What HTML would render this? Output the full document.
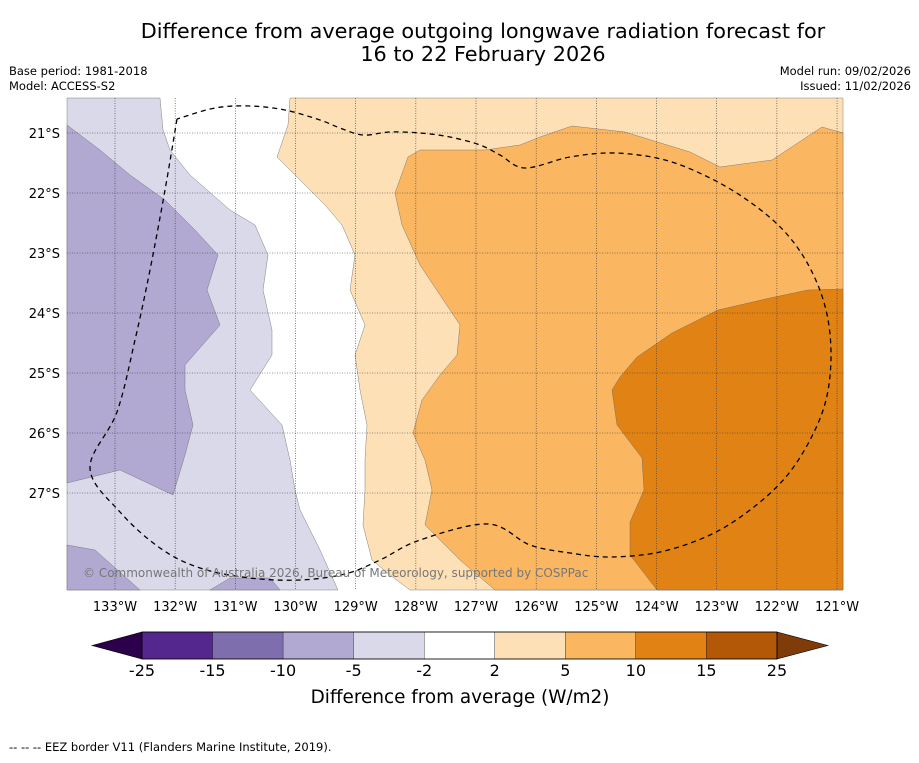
<!DOCTYPE html>
<html><head><meta charset="utf-8"><style>
body{margin:0;background:#fff;font-family:"Liberation Sans","DejaVu Sans",sans-serif;}
svg text{font-family:"DejaVu Sans","Liberation Sans",sans-serif;}
</style></head><body>
<svg id="c" width="919" height="758" viewBox="0 0 919 758" xmlns="http://www.w3.org/2000/svg">
<rect width="919" height="758" fill="#fff"/>
<text x="483" y="38" font-size="20.8" text-anchor="middle">Difference from average outgoing longwave radiation forecast for</text>
<text x="483" y="61" font-size="20.8" text-anchor="middle">16 to 22 February 2026</text>
<text x="9" y="75" font-size="11.5">Base period: 1981-2018</text>
<text x="9" y="90" font-size="11.5">Model: ACCESS-S2</text>
<text x="911" y="75" font-size="11.5" text-anchor="end">Model run: 09/02/2026</text>
<text x="911" y="90" font-size="11.5" text-anchor="end">Issued: 11/02/2026</text>
<g id="map"></g>
<g id="cbar"></g>
<text x="460" y="703" font-size="18.4" text-anchor="middle">Difference from average (W/m2)</text>
<text x="9" y="751" font-size="11.5">--  --  -- EEZ border V11 (Flanders Marine Institute, 2019).</text>
</svg>
<script>
const levels=[-25,-15,-10,-5,-2,2,5,10,15,25];
const levelColors=["#54278f","#7f6ead","#b1a9d1","#d9d9ea","#ffffff","#fee0b6","#fbb661","#e08214","#b35806"];
const extColors=["#2d004b","#7f3b08"];
const lonTicks=[-133,-132,-131,-130,-129,-128,-127,-126,-125,-124,-123,-122,-121];
const latTicks=[-21,-22,-23,-24,-25,-26,-27];
const regionLevels=[3,2,2,2,5,6,7];
const regionShapes=[
[[160,98],[163,130],[170,150],[190,175],[230,210],[255,225],[268,255],[263,290],[272,330],[272,355],[250,390],[282,425],[290,460],[295,490],[300,510],[320,550],[338,590],[67,590],[67,98]],
[[67,125],[100,150],[130,175],[165,200],[195,230],[218,255],[207,290],[220,325],[185,365],[185,390],[193,425],[185,455],[173,495],[120,470],[67,483]],
[[67,545],[95,550],[140,590],[67,590]],
[[210,590],[230,578],[270,578],[280,590]],
[[290,98],[288,125],[277,157],[300,180],[325,205],[342,225],[355,255],[350,290],[365,325],[355,355],[360,390],[367,425],[365,460],[365,490],[363,525],[372,560],[390,575],[410,590],[843,590],[843,98]],
[[843,133],[822,127],[772,160],[720,167],[690,152],[625,132],[572,126],[540,137],[520,145],[485,150],[420,150],[408,157],[395,193],[402,225],[420,265],[440,295],[460,325],[457,355],[440,375],[422,400],[413,433],[425,460],[432,490],[425,525],[460,560],[495,590],[843,590]],
[[843,289],[808,290],[770,298],[718,310],[672,333],[637,357],[620,377],[612,390],[617,425],[642,458],[644,490],[630,522],[630,555],[657,590],[843,590]]
];
const eez=[[177,119],[165,190],[150,270],[135,340],[117,412],[90,468],[120,512],[160,548],[200,568],[250,578],[300,580],[345,574],[380,560],[420,540],[488,524],[530,545],[570,553],[610,557],[660,552],[710,535],[750,510],[785,478],[810,440],[826,400],[831,355],[826,310],[810,268],[785,232],[750,202],[710,178],[665,160],[615,153],[570,157],[525,168],[500,155],[480,145],[450,137],[420,133],[390,132],[363,135],[340,128],[320,120],[285,110],[250,106],[215,108],[177,119]];
const NS="http://www.w3.org/2000/svg";
const X0=67,X1=843,Y0=98,Y1=590;
const xLon=l=>115+(l+133)*60.17;
const yLat=l=>133+(-21-l)*60;
function mk(t,a,p){const e=document.createElementNS(NS,t);for(const k in a)e.setAttribute(k,a[k]);p.appendChild(e);return e;}
const map=document.getElementById('map');
mk('rect',{x:X0,y:Y0,width:X1-X0,height:Y1-Y0,fill:'#fff'},map);
regionShapes.forEach((s,i)=>{
 const p=mk('polygon',{points:s.map(q=>q.join(',')).join(' '),fill:levelColors[regionLevels[i]],stroke:'#666','stroke-width':0.4},map);
 
 
});
lonTicks.forEach(l=>{const x=xLon(l);
 const g=mk('line',{x1:x,y1:Y0,x2:x,y2:Y1,stroke:'#333','stroke-width':0.6,'stroke-dasharray':'1,1.5'},map);
 
 const t=mk('text',{x:x,y:611,'font-size':13,'text-anchor':'middle'},map);t.textContent=Math.abs(l)+'°W';
 });
latTicks.forEach(l=>{const y=yLat(l);
 const g=mk('line',{x1:X0,y1:y,x2:X1,y2:y,stroke:'#333','stroke-width':0.6,'stroke-dasharray':'1,1.5'},map);
 
 const t=mk('text',{x:60,y:y+5,'font-size':13,'text-anchor':'end'},map);t.textContent=Math.abs(l)+'°S';
 });
function spline(pts){let d=`M${pts[0][0]},${pts[0][1]}`;
 for(let i=0;i<pts.length-1;i++){const p0=pts[Math.max(i-1,0)],p1=pts[i],p2=pts[i+1],p3=pts[Math.min(i+2,pts.length-1)];
  d+=` C${p1[0]+(p2[0]-p0[0])/6},${p1[1]+(p2[1]-p0[1])/6} ${p2[0]-(p3[0]-p1[0])/6},${p2[1]-(p3[1]-p1[1])/6} ${p2[0]},${p2[1]}`;}
 return d;}
const ez=mk('path',{d:spline(eez),fill:'none',stroke:'#000','stroke-width':1.3,'stroke-dasharray':'5,4'},map);

const cp=mk('text',{x:83,y:577,'font-size':12,fill:'#777'},map);cp.textContent='© Commonwealth of Australia 2026, Bureau of Meteorology, supported by COSPPac';

const cb=document.getElementById('cbar');
const bx0=142,bw=70.55,by=632,bh=27;
mk('polygon',{points:`92,${by+bh/2} ${bx0},${by} ${bx0},${by+bh}`,fill:extColors[0],stroke:'#000','stroke-width':0.6},cb);
const xe=bx0+bw*levelColors.length;
mk('polygon',{points:`${xe+51},${by+bh/2} ${xe},${by} ${xe},${by+bh}`,fill:extColors[1],stroke:'#000','stroke-width':0.6},cb);
levelColors.forEach((c,i)=>{const r=mk('rect',{x:bx0+i*bw,y:by,width:bw,height:bh,fill:c,stroke:'#000','stroke-width':0.3},cb);
 });
mk('rect',{x:bx0,y:by,width:bw*levelColors.length,height:bh,fill:'none',stroke:'#000','stroke-width':0.8},cb);
levels.forEach((v,i)=>{const t=mk('text',{x:bx0+i*bw,y:676,'font-size':16,'text-anchor':'middle'},cb);t.textContent=v;
 });
</script>
</body></html>
